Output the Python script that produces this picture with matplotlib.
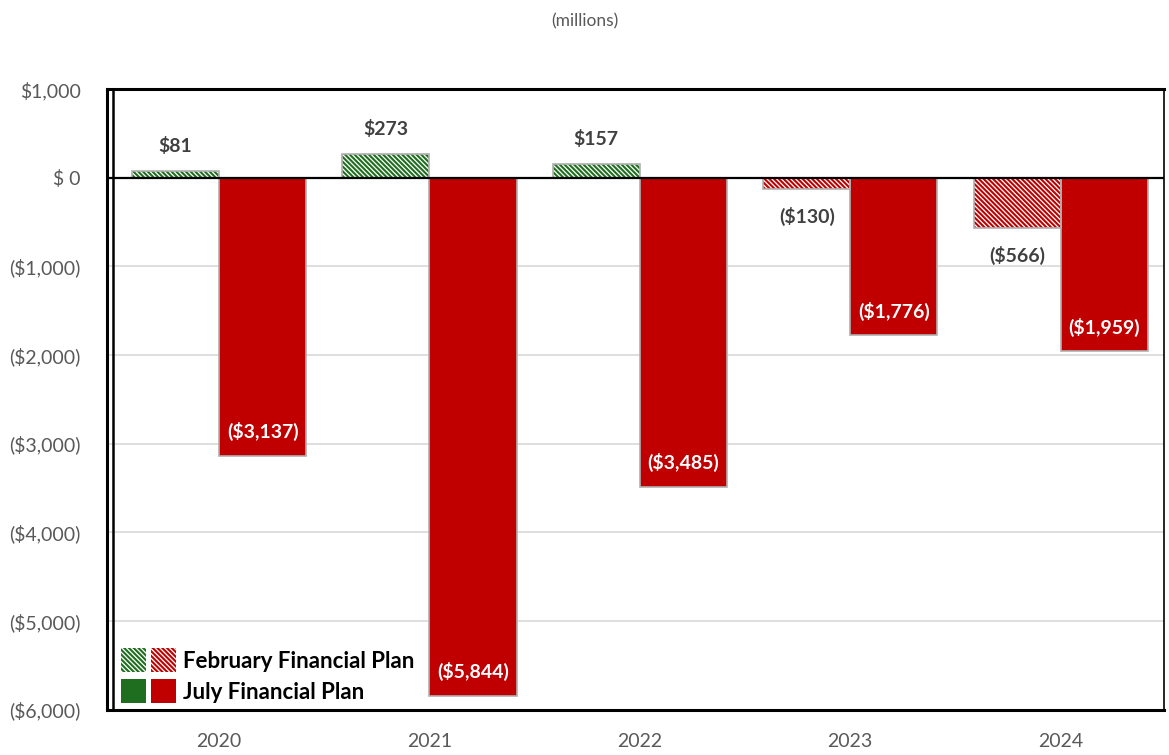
import matplotlib
matplotlib.use("Agg")
import matplotlib.pyplot as plt
import numpy as np
from matplotlib.patches import Patch
from matplotlib.lines import Line2D
from matplotlib.legend_handler import HandlerTuple

years = ["2020", "2021", "2022", "2023", "2024"]
feb_plan = [81, 273, 157, -130, -566]
july_plan = [-3137, -5844, -3485, -1776, -1959]

GREEN = "#1f6e1f"
RED = "#c00000"
LABEL_GRAY = "#404040"
TICK_GRAY = "#595959"
HATCH = "\\" * 7

plt.rcParams["font.family"] = ["Lato", "DejaVu Sans"]
plt.rcParams["hatch.linewidth"] = 1.5


def money(v):
    s = f"${abs(v):,.0f}"
    return f"({s})" if v < 0 else s


fig = plt.figure(figsize=(11.69, 7.55), dpi=100, facecolor="white")
ax = fig.add_axes([0.0915, 0.06, 0.904, 0.822])

x = np.arange(len(years))
w = 0.414

for i, v in enumerate(feb_plan):
    col = GREEN if v >= 0 else RED
    ax.bar(x[i] - w / 2, v, w, color="white", edgecolor=col, hatch=HATCH,
           linewidth=0, zorder=3)
    ax.bar(x[i] - w / 2, v, w, fill=False, edgecolor="#b0b0b0", linewidth=1.2, zorder=4)
    if v >= 0:
        ax.text(x[i] - w / 2, v + 180, money(v), ha="center", va="bottom",
                fontsize=14, fontweight="bold", color=LABEL_GRAY, zorder=5)
    else:
        ax.text(x[i] - w / 2, v - 200, money(v), ha="center", va="top",
                fontsize=14, fontweight="bold", color=LABEL_GRAY, zorder=5)

ax.bar(x + w / 2, july_plan, w, color=RED, edgecolor="#b0b0b0", linewidth=1.2, zorder=3)
for xi, v in zip(x, july_plan):
    ax.text(xi + w / 2, v + 270, money(v), ha="center", va="center",
            fontsize=14, fontweight="bold", color="white", zorder=5)

ax.axhline(0, color="black", lw=1.6, zorder=4)

ax.set_ylim(-6000, 1000)
ax.set_xlim(-0.533, 4.49)
ax.set_yticks(np.arange(-6000, 1001, 1000))
ax.set_yticklabels([money(t) if t != 0 else "$ 0" for t in np.arange(-6000, 1001, 1000)])
ax.set_xticks(x)
ax.set_xticklabels(years)
ax.tick_params(axis="both", length=0, labelsize=14, labelcolor=TICK_GRAY)
ax.tick_params(axis="x", pad=17)
ax.tick_params(axis="y", pad=19)
ax.grid(axis="y", color="#d9d9d9", lw=1.2, zorder=0)

for side in ["top", "left", "bottom"]:
    ax.spines[side].set_linewidth(2.2)
ax.spines["right"].set_linewidth(1.2)
# second, inner line of the left border
ax.add_line(Line2D([0.0058, 0.0058], [0, 1], transform=ax.transAxes,
                   color="black", lw=1.8, zorder=6, clip_on=False))

fig.text(0.5, 0.972, "(millions)", ha="center", va="center", fontsize=12.5, color=TICK_GRAY)

feb_handle = (Patch(facecolor="white", edgecolor=GREEN, hatch=HATCH, linewidth=0),
              Patch(facecolor="white", edgecolor=RED, hatch=HATCH, linewidth=0))
july_handle = (Patch(facecolor=GREEN), Patch(facecolor=RED))
leg = ax.legend([feb_handle, july_handle], ["February Financial Plan", "July Financial Plan"],
                handler_map={tuple: HandlerTuple(ndivide=None, pad=0.2)},
                loc="lower left", bbox_to_anchor=(-0.006, -0.022), frameon=False,
                handlelength=2.5, handleheight=1.3, handletextpad=0.3, labelspacing=0.3,
                prop={"size": 16, "weight": "bold"})
leg.set_zorder(7)

fig.savefig("out.png", dpi=100, facecolor="white")
